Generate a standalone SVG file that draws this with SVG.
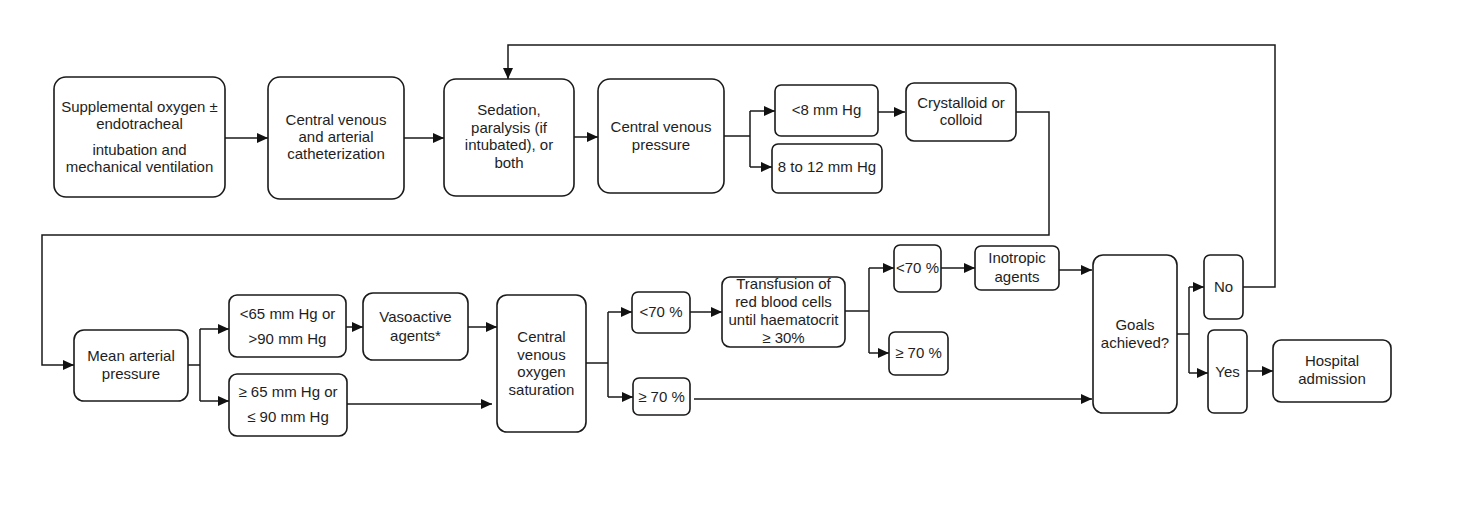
<svg xmlns="http://www.w3.org/2000/svg" width="1466" height="506" viewBox="0 0 1466 506">
<style>
.box{fill:#fff;stroke:#1a1a1a;stroke-width:1.6}
.t{font-family:"Liberation Sans",Arial,sans-serif;font-size:15px;fill:#1e1e1e;text-anchor:middle}
.c{fill:none;stroke:#1a1a1a;stroke-width:1.5}
</style>
<defs>
<marker id="ah" markerUnits="userSpaceOnUse" markerWidth="11" markerHeight="10" refX="11" refY="5" orient="auto">
<path d="M0,0 L11,5 L0,10 z" fill="#111"/>
</marker>
</defs>
<rect width="1466" height="506" fill="#fff"/>
<g id="connectors">
<path class="c" d="M225,138 H268" marker-end="url(#ah)"/>
<path class="c" d="M404,138 H444" marker-end="url(#ah)"/>
<path class="c" d="M574,137 H598" marker-end="url(#ah)"/>
<path class="c" d="M724,136 H750 M750,111 V167"/>
<path class="c" d="M750,111 H775" marker-end="url(#ah)"/>
<path class="c" d="M750,167 H772" marker-end="url(#ah)"/>
<path class="c" d="M876,112 H905" marker-end="url(#ah)"/>
<path class="c" d="M1016,112 H1049 V235 H42 V365 H74" marker-end="url(#ah)"/>
<path class="c" d="M188,365 H200 M200,329 V401"/>
<path class="c" d="M200,329 H229" marker-end="url(#ah)"/>
<path class="c" d="M200,401 H229" marker-end="url(#ah)"/>
<path class="c" d="M346,327 H363" marker-end="url(#ah)"/>
<path class="c" d="M468,327 H497" marker-end="url(#ah)"/>
<path class="c" d="M347,404 H492" marker-end="url(#ah)"/>
<path class="c" d="M586,363 H608 M608,312 V397"/>
<path class="c" d="M608,312 H632" marker-end="url(#ah)"/>
<path class="c" d="M608,397 H633" marker-end="url(#ah)"/>
<path class="c" d="M690,312 H722" marker-end="url(#ah)"/>
<path class="c" d="M845,311 H869 M869,268 V353"/>
<path class="c" d="M869,268 H894" marker-end="url(#ah)"/>
<path class="c" d="M869,353 H889" marker-end="url(#ah)"/>
<path class="c" d="M941,268 H975" marker-end="url(#ah)"/>
<path class="c" d="M1059,270 H1092" marker-end="url(#ah)"/>
<path class="c" d="M694,399 H1092" marker-end="url(#ah)"/>
<path class="c" d="M1177,334 H1189 M1189,287 V373"/>
<path class="c" d="M1189,287 H1204" marker-end="url(#ah)"/>
<path class="c" d="M1189,373 H1208" marker-end="url(#ah)"/>
<path class="c" d="M1243,287 H1275 V45 H508 V79" marker-end="url(#ah)"/>
<path class="c" d="M1247,371 H1273" marker-end="url(#ah)"/>
</g>
<g id="n1"><rect class="box" x="54" y="77" width="171" height="120" rx="12"/>
<text class="t" x="139.5" y="112">Supplemental oxygen ±</text><text class="t" x="139.5" y="129">endotracheal</text><text class="t" x="139.5" y="155">intubation and</text><text class="t" x="139.5" y="172">mechanical ventilation</text></g>
<g id="n2"><rect class="box" x="268" y="77" width="136" height="122" rx="12"/>
<text class="t" x="336" y="125">Central venous</text><text class="t" x="336" y="142">and arterial</text><text class="t" x="336" y="159">catheterization</text></g>
<g id="n3"><rect class="box" x="444" y="79" width="130" height="117" rx="12"/>
<text class="t" x="509" y="115">Sedation,</text><text class="t" x="509" y="133">paralysis (if</text><text class="t" x="509" y="150">intubated), or</text><text class="t" x="509" y="168">both</text></g>
<g id="n4"><rect class="box" x="598" y="79" width="126" height="114" rx="12"/>
<text class="t" x="661" y="132">Central venous</text><text class="t" x="661" y="150">pressure</text></g>
<g id="n5"><rect class="box" x="775" y="85" width="103" height="51" rx="6"/>
<text class="t" x="826.5" y="115">&lt;8 mm Hg</text></g>
<g id="n6"><rect class="box" x="772" y="144" width="110" height="49" rx="6"/>
<text class="t" x="827" y="172">8 to 12 mm Hg</text></g>
<g id="n7"><rect class="box" x="906" y="83" width="110" height="58" rx="8"/>
<text class="t" x="961" y="108">Crystalloid or</text><text class="t" x="961" y="125">colloid</text></g>
<g id="n8"><rect class="box" x="74" y="330" width="114" height="71" rx="10"/>
<text class="t" x="131" y="361">Mean arterial</text><text class="t" x="131" y="379">pressure</text></g>
<g id="n9"><rect class="box" x="229" y="295" width="117" height="62" rx="8"/>
<text class="t" x="287.5" y="319">&lt;65 mm Hg or</text><text class="t" x="287.5" y="344">&gt;90 mm Hg</text></g>
<g id="n10"><rect class="box" x="229" y="374" width="118" height="62" rx="8"/>
<text class="t" x="288" y="397">≥ 65 mm Hg or</text><text class="t" x="288" y="422">≤ 90 mm Hg</text></g>
<g id="n11"><rect class="box" x="363" y="293" width="105" height="67" rx="10"/>
<text class="t" x="415.5" y="322">Vasoactive</text><text class="t" x="415.5" y="341">agents*</text></g>
<g id="n12"><rect class="box" x="497" y="295" width="89" height="137" rx="10"/>
<text class="t" x="541.5" y="342">Central</text><text class="t" x="541.5" y="360">venous</text><text class="t" x="541.5" y="377">oxygen</text><text class="t" x="541.5" y="395">saturation</text></g>
<g id="n13"><rect class="box" x="632" y="292" width="58" height="41" rx="6"/>
<text class="t" x="661" y="317">&lt;70 %</text></g>
<g id="n14"><rect class="box" x="633" y="378" width="57" height="37" rx="6"/>
<text class="t" x="661.5" y="402">≥ 70 %</text></g>
<g id="n15"><rect class="box" x="722" y="277" width="123" height="70" rx="8"/>
<text class="t" x="783.5" y="289">Transfusion of</text><text class="t" x="783.5" y="307">red blood cells</text><text class="t" x="783.5" y="325">until haematocrit</text><text class="t" x="783.5" y="343">≥ 30%</text></g>
<g id="n16"><rect class="box" x="894" y="245" width="47" height="47" rx="6"/>
<text class="t" x="917.5" y="273">&lt;70 %</text></g>
<g id="n17"><rect class="box" x="889" y="332" width="59" height="43" rx="6"/>
<text class="t" x="918.5" y="358">≥ 70 %</text></g>
<g id="n18"><rect class="box" x="975" y="246" width="84" height="44" rx="6"/>
<text class="t" x="1017" y="263">Inotropic</text><text class="t" x="1017" y="282">agents</text></g>
<g id="n19"><rect class="box" x="1093" y="255" width="84" height="158" rx="10"/>
<text class="t" x="1135" y="330">Goals</text><text class="t" x="1135" y="348">achieved?</text></g>
<g id="n20"><rect class="box" x="1204" y="255" width="39" height="64" rx="6"/>
<text class="t" x="1223.5" y="292">No</text></g>
<g id="n21"><rect class="box" x="1208" y="330" width="39" height="83" rx="6"/>
<text class="t" x="1227.5" y="377">Yes</text></g>
<g id="n22"><rect class="box" x="1273" y="340" width="118" height="62" rx="8"/>
<text class="t" x="1332" y="366">Hospital</text><text class="t" x="1332" y="384">admission</text></g>
</svg>
